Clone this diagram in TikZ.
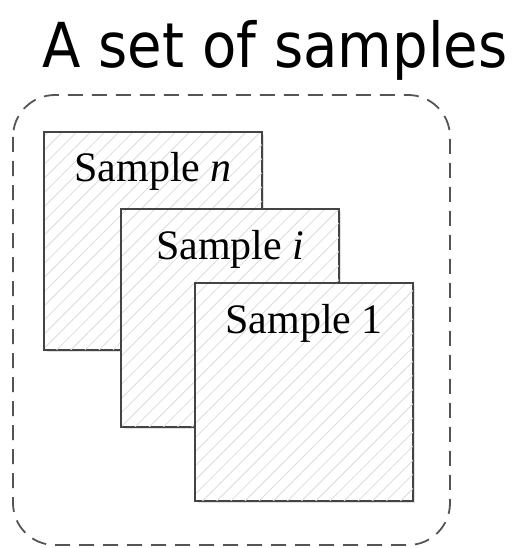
\documentclass[tikz,border=0pt]{standalone}
\usepackage{fontspec}
\setmainfont{Liberation Serif}
\newfontfamily\titlefont{DejaVu Sans}
\usetikzlibrary{patterns.meta}
\definecolor{hatchcol}{HTML}{DCDCDC}
\definecolor{edgecol}{HTML}{444444}
\definecolor{dashcol}{HTML}{555555}
\tikzset{
  samplebox/.style={draw=edgecol, line width=1.4pt, fill=white, minimum width=217pt, minimum height=217pt, anchor=north west, inner sep=0pt},
  hatchfill/.style={pattern={Lines[angle=45,distance=10pt,line width=0.8pt]}, pattern color=hatchcol},
  shadowbox/.style={fill=black!12, draw=none, minimum width=217pt, minimum height=217pt, anchor=north west, inner sep=0pt},
  lbl/.style={font=\fontsize{42}{42}\selectfont, anchor=base, inner sep=0pt}
}
\begin{document}
\begin{tikzpicture}[x=1pt,y=-1pt]
\useasboundingbox (0,0) rectangle (516,548);
\node[font=\titlefont\fontsize{62}{62}\selectfont, anchor=base, inner sep=0pt, xscale=0.905] (title) at (275,68) {A set of samples};
\draw[dashcol, line width=1.8pt, dash pattern=on 15pt off 9pt, rounded corners=42pt] (13,95) rectangle (450,545);
% sample n
\node[shadowbox] (sns) at (47,135) {};
\node[samplebox] (sn) at (44,132) {};
\fill[hatchfill] (sn.north west) rectangle (sn.south east);
\draw[edgecol, line width=1.4pt] (sn.north west) rectangle (sn.south east);
\node[lbl] (ln) at ([yshift=-50pt]sn.north) {Sample \textit{n}};
% sample i
\node[shadowbox] (sis) at (124,212) {};
\node[samplebox] (si) at (121,209) {};
\fill[hatchfill] (si.north west) rectangle (si.south east);
\draw[edgecol, line width=1.4pt] (si.north west) rectangle (si.south east);
\node[lbl] (li) at ([yshift=-50pt]si.north) {Sample \textit{i}};
% sample 1
\node[shadowbox] (s1s) at (198,286) {};
\node[samplebox] (s1) at (195,283) {};
\fill[hatchfill] (s1.north west) rectangle (s1.south east);
\draw[edgecol, line width=1.4pt] (s1.north west) rectangle (s1.south east);
\node[lbl] (l1) at ([yshift=-50pt]s1.north) {Sample 1};
\end{tikzpicture}
\end{document}
